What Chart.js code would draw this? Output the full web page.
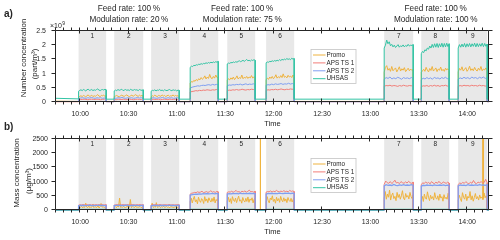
<!DOCTYPE html>
<html><head><meta charset="utf-8">
<script src="https://cdn.jsdelivr.net/npm/chart.js@4.4.1/dist/chart.umd.min.js"></script>
<style>
html,body{margin:0;padding:0;background:#fff;width:500px;height:240px;overflow:hidden;}
#wa{position:absolute;left:0;top:0;width:500px;height:130px;}
#wb{position:absolute;left:0;top:116px;width:500px;height:124px;}
canvas{display:block;}
</style></head><body>
<div id="wa"><canvas id="ca" width="500" height="130"></canvas></div>
<div id="wb"><canvas id="cb" width="500" height="124"></canvas></div>
<script>
// ---------- time axis (minutes since midnight) ----------
const X_MIN = 585, X_MAX = 853.5;
const xTickValues = [600, 630, 660, 690, 720, 750, 780, 810, 840];
const xTickLabels = ['10:00','10:30','11:00','11:30','12:00','12:30','13:00','13:30','14:00'];
const blockNames = ['1','2','3','4','5','6','7','8','9'];
const blockStart = [599.0, 621.1, 644.0, 668.2, 691.2, 715.3, 788.5, 811.5, 834.4];
const blockEnd   = [616.1, 639.1, 661.4, 685.6, 708.5, 732.7, 806.5, 828.8, 852.4];
const groups = [
  {first:0, last:2, feed:'Feed rate: 100\u2009%', mod:'Modulation rate: 20\u2009%'},
  {first:3, last:5, feed:'Feed rate: 100\u2009%', mod:'Modulation rate: 75\u2009%'},
  {first:6, last:8, feed:'Feed rate: 100\u2009%', mod:'Modulation rate: 100\u2009%'}
];
const seriesNames = ['Promo', 'APS TS 1', 'APS TS 2', 'UHSAS'];

// ---------- panel a: number concentration (x10^9 part/m3) ----------
const yTickValuesA = [0, 0.5, 1, 1.5, 2, 2.5];
const yTickLabelsA = ['0','0.5','1','1.5','2','2.5'];
const promoNum = [
 [0.17,0.20,0.22,0.19,0.23,0.21,0.18,0.22,0.25,0.20,0.21,0.24,0.19,0.22,0.20,0.23,0.26,0.21,0.19,0.23,0.22,0.24,0.20,0.22],
 [0.19,0.21,0.23,0.20,0.18,0.22,0.24,0.21,0.20,0.23,0.25,0.21,0.19,0.22,0.24,0.20,0.23,0.26,0.22,0.20,0.24,0.21,0.23,0.22],
 [0.18,0.22,0.20,0.24,0.21,0.19,0.23,0.22,0.20,0.25,0.21,0.23,0.19,0.22,0.24,0.20,0.22,0.21,0.25,0.20,0.23,0.21,0.22,0.20],
 [0.66,0.72,0.70,0.76,0.73,0.79,0.75,0.82,0.78,0.86,0.80,0.84,0.92,0.81,0.88,0.83,0.97,0.85,0.82,0.90,0.84,0.95,0.86,0.88],
 [0.76,0.82,0.78,0.85,0.80,0.88,0.79,0.84,0.92,0.81,0.86,0.83,0.95,0.82,0.87,0.84,0.90,0.83,0.88,0.85,0.93,0.84,0.89,0.86],
 [0.78,0.84,0.80,0.88,0.83,0.90,0.82,0.87,0.96,0.84,0.89,0.85,0.93,0.86,0.99,0.87,0.90,0.85,0.94,0.88,0.91,0.86,0.95,0.88],
 [1.05,1.22,1.28,1.12,1.18,1.08,1.25,1.10,1.15,1.20,1.06,1.14,1.24,1.09,1.17,1.12,1.21,1.07,1.13,1.19,1.10,1.16,1.11,1.14],
 [1.04,1.10,1.15,1.08,1.22,1.12,1.06,1.18,1.11,1.25,1.09,1.14,1.20,1.07,1.16,1.12,1.23,1.10,1.15,1.08,1.19,1.13,1.17,1.11],
 [1.06,1.18,1.12,1.24,1.09,1.15,1.21,1.08,1.14,1.26,1.11,1.17,1.10,1.22,1.13,1.09,1.19,1.12,1.25,1.10,1.16,1.13,1.20,1.12]
];
const ts1Num = [
 [0.08,0.09,0.09,0.10,0.09,0.08,0.09,0.10,0.09,0.09,0.10,0.09,0.08,0.09,0.10,0.09],
 [0.09,0.08,0.10,0.09,0.09,0.10,0.08,0.09,0.10,0.09,0.08,0.09,0.10,0.09,0.09,0.10],
 [0.08,0.10,0.09,0.09,0.10,0.08,0.09,0.10,0.09,0.08,0.10,0.09,0.09,0.10,0.09,0.09],
 [0.35,0.37,0.38,0.40,0.39,0.41,0.40,0.42,0.41,0.43,0.42,0.41,0.43,0.42,0.44,0.43],
 [0.40,0.42,0.41,0.43,0.42,0.44,0.42,0.43,0.45,0.43,0.42,0.44,0.43,0.45,0.44,0.43],
 [0.41,0.43,0.42,0.44,0.43,0.45,0.43,0.44,0.46,0.44,0.43,0.45,0.44,0.46,0.45,0.44],
 [0.55,0.58,0.57,0.59,0.56,0.58,0.57,0.55,0.58,0.56,0.59,0.57,0.56,0.58,0.57,0.58],
 [0.54,0.57,0.56,0.58,0.55,0.58,0.56,0.59,0.56,0.58,0.55,0.58,0.57,0.59,0.56,0.58],
 [0.55,0.58,0.56,0.59,0.57,0.58,0.56,0.59,0.57,0.58,0.56,0.59,0.57,0.58,0.56,0.58]
];
const ts2Num = [
 [0.13,0.14,0.15,0.14,0.13,0.15,0.14,0.16,0.14,0.13,0.15,0.14,0.15,0.13,0.14,0.15],
 [0.14,0.13,0.15,0.14,0.16,0.14,0.13,0.15,0.14,0.15,0.13,0.14,0.16,0.14,0.15,0.14],
 [0.13,0.15,0.14,0.13,0.15,0.14,0.16,0.14,0.13,0.15,0.14,0.15,0.13,0.14,0.15,0.14],
 [0.49,0.52,0.54,0.55,0.57,0.56,0.58,0.59,0.58,0.60,0.61,0.59,0.62,0.60,0.62,0.61],
 [0.57,0.60,0.59,0.61,0.60,0.62,0.61,0.63,0.60,0.62,0.64,0.61,0.63,0.62,0.64,0.62],
 [0.59,0.61,0.60,0.63,0.61,0.64,0.62,0.63,0.65,0.62,0.64,0.63,0.66,0.63,0.65,0.64],
 [0.80,0.86,0.83,0.88,0.81,0.85,0.82,0.87,0.84,0.80,0.86,0.83,0.85,0.82,0.86,0.84],
 [0.78,0.84,0.81,0.86,0.82,0.85,0.80,0.87,0.83,0.85,0.81,0.86,0.83,0.87,0.82,0.85],
 [0.80,0.85,0.82,0.87,0.83,0.86,0.81,0.88,0.84,0.86,0.82,0.87,0.84,0.88,0.83,0.86]
];
const uhsasNum = [
 [0.38,0.41,0.43,0.40,0.44,0.42,0.39,0.43,0.45,0.41,0.42,0.44,0.40,0.43,0.41,0.44,0.46,0.42,0.40,0.43,0.44,0.42,0.45,0.43],
 [0.39,0.42,0.40,0.44,0.41,0.43,0.45,0.40,0.42,0.44,0.41,0.43,0.40,0.45,0.42,0.41,0.44,0.42,0.43,0.40,0.44,0.42,0.41,0.43],
 [0.38,0.41,0.40,0.43,0.39,0.42,0.41,0.44,0.40,0.42,0.39,0.43,0.41,0.40,0.42,0.44,0.41,0.40,0.43,0.41,0.42,0.39,0.42,0.41],
 [1.22,1.26,1.25,1.29,1.28,1.31,1.30,1.33,1.32,1.35,1.33,1.36,1.35,1.38,1.36,1.39,1.37,1.40,1.38,1.41,1.39,1.42,1.40,1.43],
 [1.34,1.37,1.36,1.39,1.38,1.41,1.39,1.42,1.40,1.43,1.45,1.42,1.44,1.47,1.43,1.46,1.50,1.45,1.47,1.44,1.48,1.46,1.49,1.47],
 [1.38,1.41,1.40,1.43,1.42,1.45,1.43,1.46,1.44,1.47,1.45,1.49,1.46,1.50,1.48,1.51,1.49,1.53,1.50,1.52,1.49,1.54,1.51,1.53],
 [1.90,2.00,2.18,2.05,2.12,1.98,2.03,1.94,2.00,1.92,1.97,2.02,1.93,1.98,1.95,2.01,1.94,1.99,1.96,2.03,1.97,2.00,1.99,2.02],
 [1.70,1.78,1.74,1.84,1.80,1.90,1.86,1.97,1.90,2.03,1.92,2.05,1.93,2.06,1.92,2.05,1.94,2.07,1.93,2.06,1.94,2.07,1.95,2.05],
 [1.90,2.02,1.93,2.04,1.94,2.06,1.93,2.05,1.95,2.06,1.94,2.05,1.96,2.07,1.94,2.06,1.95,2.05,1.96,2.07,1.95,2.06,1.96,2.04]
];
// values between blocks: [at gap start, at gap end], 10 gaps
const promoNumGap = [[0.03,0.02],[0.02,0.02],[0.02,0.02],[0.02,0.02],[0.02,0.02],[0.02,0.02],[0.02,0.02],[0.02,0.02],[0.02,0.02],[0.02,0.02]];
const ts1NumGap   = [[0.01,0.01],[0.01,0.01],[0.01,0.01],[0.01,0.01],[0.01,0.01],[0.01,0.01],[0.01,0.01],[0.01,0.01],[0.01,0.01],[0.01,0.01]];
const ts2NumGap   = [[0.02,0.02],[0.01,0.01],[0.01,0.01],[0.01,0.01],[0.01,0.01],[0.01,0.01],[0.01,0.01],[0.01,0.01],[0.01,0.01],[0.01,0.01]];
const uhsasNumGap = [[0.13,0.11],[0.10,0.10],[0.10,0.10],[0.10,0.10],[0.10,0.10],[0.10,0.10],[0.10,0.10],[0.10,0.10],[0.10,0.10],[0.10,0.10]];

// ---------- panel b: mass concentration (ug/m3) ----------
const yTickValuesB = [0, 500, 1000, 1500, 2000, 2500];
const yTickLabelsB = ['0','500','1000','1500','2000','2500'];
const promoMass = [
 [80,110,95,130,70,120,90,240,100,85,150,75,110,95,200,80,120,100,90,160,70,110,230,95,120,85,105,90],
 [90,120,80,140,100,420,85,110,95,130,75,115,100,150,90,370,80,120,105,90,140,85,110,95,125,80,100,115],
 [100,240,85,120,95,260,90,110,130,80,115,95,140,85,105,120,90,110,75,130,95,105,85,120,100,90,110,95],
 [300,420,250,380,480,290,360,220,450,330,270,400,350,230,470,310,390,260,430,340,280,410,300,460,250,370,320,400],
 [320,450,280,400,230,470,350,300,420,260,380,490,310,360,240,440,330,280,410,300,460,270,390,340,430,250,380,420],
 [280,470,330,250,420,360,500,300,380,240,450,320,400,270,480,350,290,430,310,390,260,440,340,300,410,280,370,430],
 [420,650,380,560,450,700,350,520,600,400,480,330,620,440,550,380,500,680,420,360,580,450,510,390,620,470,400,540],
 [350,480,300,560,420,380,640,450,330,520,400,470,350,610,430,380,500,340,560,420,470,310,540,400,450,380,590,430],
 [340,520,400,300,610,450,380,560,330,480,420,650,360,500,310,440,580,390,470,350,530,410,460,370,600,430,500,450]
];
const ts1Mass = [
 [170,185,178,190,182,175,188,180,192,176,184,179,187,181,190,177,185,183,180,186],
 [175,183,190,178,186,180,194,179,185,188,176,184,190,181,178,187,183,189,180,185],
 [172,186,180,191,177,184,189,181,176,188,183,179,192,184,180,187,178,185,190,182],
 [560,590,600,620,610,640,620,630,660,615,625,650,620,640,680,630,645,620,655,640],
 [620,640,630,660,625,650,690,635,645,620,660,640,670,630,655,700,640,650,630,660],
 [630,650,640,670,635,660,645,690,650,640,665,645,680,650,660,640,690,655,670,650],
 [900,1020,960,940,1000,930,980,1050,950,970,930,1000,960,940,990,950,1010,960,940,980],
 [890,960,930,990,940,970,920,1000,950,930,980,940,1010,950,930,990,960,940,980,950],
 [900,950,930,970,940,1000,950,920,980,940,1040,950,930,980,960,1000,950,970,1080,960]
];
const ts2Mass = [
 [150,162,158,165,155,160,168,157,163,152,160,166,158,162,155,160],
 [155,160,165,158,163,156,167,160,154,162,158,165,160,157,163,159],
 [152,163,158,161,156,166,159,162,155,160,164,158,162,157,161,160],
 [520,540,550,560,555,570,560,575,565,580,570,575,585,570,580,575],
 [560,575,570,580,575,585,570,590,580,575,585,580,590,575,585,580],
 [565,580,575,590,580,585,575,595,585,580,590,585,595,580,590,585],
 [850,890,870,880,860,900,870,860,885,870,895,865,880,870,890,875],
 [840,870,860,880,865,875,860,885,870,865,880,870,885,860,875,870],
 [850,880,865,875,860,890,870,880,865,885,870,895,875,880,870,890]
];
const uhsasMass = [[25,25],[25,25],[25,25],[25,25],[25,25],[25,25],[25,25],[25,25],[25,25]];
const zeroGap = [[0,0],[0,0],[0,0],[0,0],[0,0],[0,0],[0,0],[0,0],[0,0],[0,0]];
// isolated Promo spikes (time, surrounding value, peak value)
const promoMassSpikes = [{t:711.7, base:0, peak:3200}, {t:849.8, base:420, peak:3200}];

// ---------- styling ----------
const FONT = '"Liberation Sans", Arial, Helvetica, sans-serif';
const INK = '#262626';
const COLORS = ['#EFB33E', '#F27E78', '#7F9FF2', '#32C4A4'];
Chart.defaults.font.family = FONT;
Chart.defaults.color = INK;

function buildSeries(blocks, gaps, spikes) {
  const pts = [];
  const n = blockStart.length;
  for (let k = 0; k <= n; k++) {
    const gs = k === 0 ? X_MIN : blockEnd[k - 1];
    const ge = k === n ? X_MAX : blockStart[k];
    pts.push({x: gs, y: gaps[k][0]}, {x: ge, y: gaps[k][1]});
    if (k < n) {
      const v = blocks[k], m = v.length;
      for (let i = 0; i < m; i++) pts.push({x: blockStart[k] + (blockEnd[k] - blockStart[k]) * i / (m - 1), y: v[i]});
    }
  }
  (spikes || []).forEach(s => pts.push({x: s.t - 0.1, y: s.base}, {x: s.t, y: s.peak}, {x: s.t + 0.1, y: s.base}));
  pts.sort((a, b) => a.x - b.x);
  return pts;
}

function ds(label, data, idx, width) {
  return {label, data, borderColor: COLORS[idx], borderWidth: width || 1, pointRadius: 0,
    tension: 0, fill: false, order: 4 - idx, clip: {left: 0, top: 0, right: 0, bottom: 1}};
}

const decor = {
  id: 'decor',
  beforeDatasetsDraw(chart, args, o) {
    const {ctx, chartArea: a, scales: {x}} = chart;
    ctx.save();
    ctx.fillStyle = '#e8e8e8';
    for (let i = 0; i < blockStart.length; i++) {
      const x0 = x.getPixelForValue(blockStart[i]), x1 = x.getPixelForValue(blockEnd[i]);
      ctx.fillRect(x0, a.top, x1 - x0, a.bottom - a.top);
    }
    ctx.fillStyle = INK; ctx.font = '6.5px ' + FONT; ctx.textAlign = 'center'; ctx.textBaseline = 'middle';
    for (let i = 0; i < blockStart.length; i++) {
      const x0 = x.getPixelForValue(blockStart[i]), x1 = x.getPixelForValue(blockEnd[i]);
      ctx.fillText(blockNames[i], (x0 + x1) / 2, a.top + 5.5);
    }
    ctx.restore();
  },
  afterDatasetsDraw(chart, args, o) {
    const {ctx, chartArea: a, scales: {x, y}} = chart;
    const L = Math.round(a.left) - 0.5, R = Math.round(a.right) - 0.5, T = Math.round(a.top) - 0.5, B = Math.round(a.bottom) - 0.5;
    ctx.save();
    ctx.strokeStyle = INK; ctx.lineWidth = 1;
    ctx.beginPath();
    ctx.rect(L, T, R - L, B - T);
    // x ticks (minor every 5 min, major crossing)
    for (let t = X_MIN; t <= X_MAX; t += 5) {
      const px = Math.round(x.getPixelForValue(t)) - 0.5;
      const major = xTickValues.includes(t);
      ctx.moveTo(px, B + 3); ctx.lineTo(px, major ? B - 3 : B);
      ctx.moveTo(px, T - 3); ctx.lineTo(px, major ? T + 3 : T);
    }
    o.yTicks.forEach(v => {
      const py = Math.round(y.getPixelForValue(v)) - 0.5;
      ctx.moveTo(L - 4, py); ctx.lineTo(L, py);
      ctx.moveTo(R, py); ctx.lineTo(R + 4, py);
    });
    ctx.stroke();
    ctx.restore();
  },
  afterDraw(chart, args, o) {
    const {ctx, chartArea: a, scales: {x}} = chart;
    ctx.save();
    ctx.fillStyle = INK;
    // y-axis title (two lines, rotated)
    ctx.font = '8px ' + FONT; ctx.textAlign = 'center'; ctx.textBaseline = 'middle';
    o.yTitle.forEach(t => {
      ctx.save(); ctx.translate(t.x, t.y); ctx.rotate(-Math.PI / 2); ctx.fillText(t.text, 0, 0); ctx.restore();
    });
    // panel letter
    ctx.font = 'bold 10px ' + FONT; ctx.textAlign = 'left';
    ctx.fillText(o.panel, 4, o.panelY);
    // exponent
    if (o.exponent) {
      ctx.font = '7px ' + FONT; ctx.fillText('\u00d710', 50, a.top - 5);
      const w = ctx.measureText('\u00d710').width;
      ctx.font = '5px ' + FONT; ctx.fillText(o.exponent, 50 + w + 0.5, a.top - 7.5);
    }
    // group annotations
    if (o.annotate) {
      ctx.font = '8.2px ' + FONT; ctx.textAlign = 'center';
      groups.forEach(g => {
        const cx = (x.getPixelForValue(blockStart[g.first]) + x.getPixelForValue(blockEnd[g.last])) / 2;
        ctx.fillText(g.feed, cx, 8.5);
        ctx.fillText(g.mod, cx, 19.8);
      });
    }
    // legend
    const lx = o.legendX, ly = a.top + o.legendDy, lw = 45, lh = 34;
    ctx.fillStyle = '#fff'; ctx.fillRect(lx, ly, lw, lh);
    ctx.strokeStyle = '#c4c4c4'; ctx.lineWidth = 0.8; ctx.strokeRect(lx + 0.5, ly + 0.5, lw, lh);
    ctx.font = '6.3px ' + FONT; ctx.textAlign = 'left'; ctx.textBaseline = 'middle';
    chart.data.datasets.forEach((d, i) => {
      const yy = ly + 6 + i * 7.9;
      ctx.strokeStyle = d.borderColor; ctx.lineWidth = 1;
      ctx.beginPath(); ctx.moveTo(lx + 2.5, yy); ctx.lineTo(lx + 15, yy); ctx.stroke();
      ctx.fillStyle = INK; ctx.fillText(d.label, lx + 16, yy);
    });
    ctx.restore();
  }
};

function makeChart(id, datasets, yMin, yMax, yVals, yLabels, padTop, xAxisH, yLabelPad, titlePadB, plug) {
  return new Chart(document.getElementById(id), {
    type: 'line',
    data: {datasets},
    options: {
      responsive: false, animation: false, devicePixelRatio: 1,
      layout: {padding: {left: 0, right: 11, top: padTop, bottom: 0}},
      plugins: {legend: {display: false}, tooltip: {enabled: false}, decor: plug},
      scales: {
        x: {type: 'linear', min: X_MIN, max: X_MAX,
          grid: {display: false, drawTicks: false}, border: {display: false},
          afterBuildTicks: s => { s.ticks = xTickValues.map(v => ({value: v})); },
          afterFit: s => { s.height = xAxisH; },
          ticks: {autoSkip: false, maxRotation: 0, padding: 8, color: INK, font: {size: 7},
            callback: v => xTickLabels[xTickValues.indexOf(v)]},
          title: {display: true, text: 'Time', color: INK, font: {size: 7.5}, padding: {top: 0, bottom: titlePadB}}},
        y: {min: yMin, max: yMax,
          grid: {display: false, drawTicks: false}, border: {display: false},
          afterBuildTicks: s => { s.ticks = yVals.map(v => ({value: v})); },
          afterFit: s => { s.width = 56; },
          ticks: {padding: yLabelPad, color: INK, font: {size: 7},
            callback: v => yLabels[yVals.indexOf(v)]}}
      }
    },
    plugins: [decor]
  });
}

makeChart('ca', [
  ds(seriesNames[0], buildSeries(promoNum, promoNumGap), 0),
  ds(seriesNames[1], buildSeries(ts1Num, ts1NumGap), 1),
  ds(seriesNames[2], buildSeries(ts2Num, ts2NumGap), 2),
  ds(seriesNames[3], buildSeries(uhsasNum, uhsasNumGap), 3)
], 0, 2.5, yTickValuesA, yTickLabelsA, 31, 28, 10, 1.8, {
  yTicks: yTickValuesA, panel: 'a)', panelY: 14.5, exponent: '9', annotate: true,
  legendX: 310.5, legendDy: 18,
  yTitle: [{text: 'Number concentration', x: 24, y: 58}, {text: '(part/m\u00b3)', x: 35, y: 64}]
});

makeChart('cb', [
  ds(seriesNames[0], buildSeries(promoMass, zeroGap, promoMassSpikes), 0),
  ds(seriesNames[1], buildSeries(ts1Mass, zeroGap), 1),
  ds(seriesNames[2], buildSeries(ts2Mass, zeroGap), 2, 1.3),
  ds(seriesNames[3], buildSeries(uhsasMass, zeroGap), 3)
], 0, 2500, yTickValuesB, yTickLabelsB, 23, 30, 8, 4, {
  yTicks: yTickValuesB, panel: 'b)', panelY: 11, exponent: null, annotate: false,
  legendX: 310.5, legendDy: 19,
  yTitle: [{text: 'Mass concentration', x: 17, y: 57}, {text: '(\u00b5g/m\u00b3)', x: 29, y: 65}]
});
</script>
</body></html>
